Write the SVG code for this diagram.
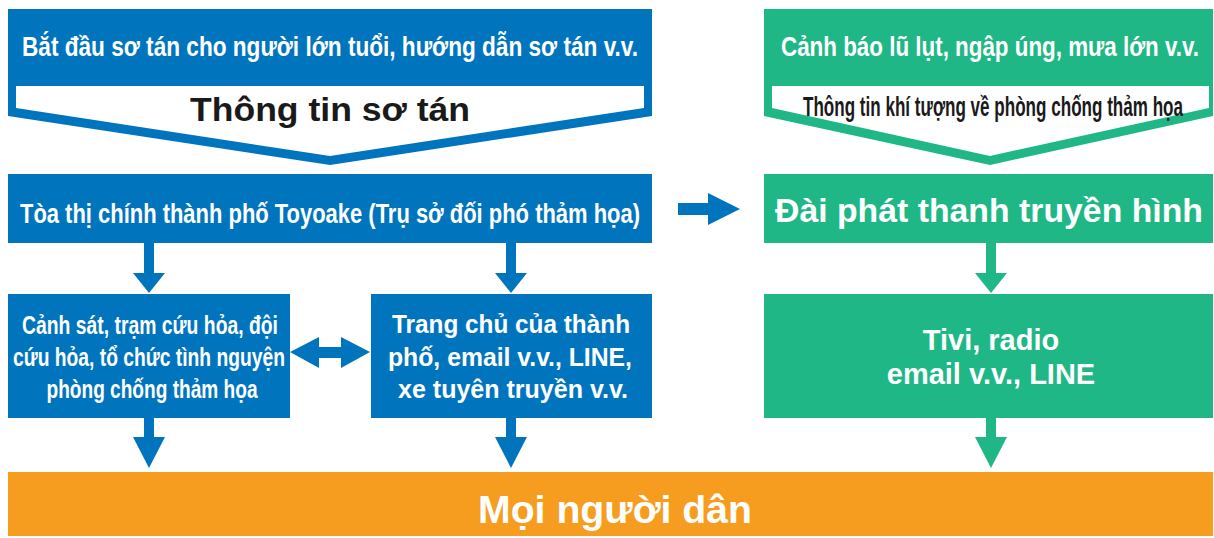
<svg xmlns="http://www.w3.org/2000/svg" width="1214" height="538" viewBox="0 0 1214 538">
<style>
.blue{fill:#0075BE}
.green{fill:#20B786}
.orange{fill:#F69C1E}
.white{fill:#FFFFFF}
.t{font-family:"Liberation Sans Narrow","Liberation Sans",Arial,sans-serif;font-weight:bold;text-anchor:middle}
.w{fill:#FFFFFF}
.k{fill:#1A1A1A}
.b{font-family:"Liberation Sans",Arial,sans-serif;font-weight:bold;text-anchor:middle}
</style>
<rect width="1214" height="538" fill="#FFFFFF"/>
<g id="evac-info">
<polygon class="blue" points="8,9 652,9 652,116 330,165 8,116"/>
<polygon class="white" points="16,86 644,86 644,108 330,156 16,108"/>
<text class="t w" x="330" y="56" font-size="28" textLength="616" lengthAdjust="spacingAndGlyphs">Bắt đầu sơ tán cho người lớn tuổi, hướng dẫn sơ tán v.v.</text>
<text class="b k" x="330" y="121" font-size="34" textLength="280" lengthAdjust="spacingAndGlyphs">Thông tin sơ tán</text>
</g>
<g id="weather-info">
<polygon class="green" points="764,9 1213,9 1213,116 990,165 764,116"/>
<polygon class="white" points="772,86 1209,86 1209,108 990,156 772,108"/>
<text class="t w" x="990" y="56" font-size="28" textLength="418" lengthAdjust="spacingAndGlyphs">Cảnh báo lũ lụt, ngập úng, mưa lớn v.v.</text>
<text class="t k" x="993" y="116" font-size="27" textLength="380" lengthAdjust="spacingAndGlyphs">Thông tin khí tượng về phòng chống thảm họa</text>
</g>
<g id="city-hall">
<rect class="blue" x="8" y="174" width="644" height="69"/>
<text class="t w" x="330" y="223" font-size="28" textLength="620" lengthAdjust="spacingAndGlyphs">Tòa thị chính thành phố Toyoake (Trụ sở đối phó thảm họa)</text>
</g>
<g id="broadcaster">
<rect class="green" x="764" y="174" width="449" height="69"/>
<text class="b w" x="989" y="222" font-size="33" textLength="428" lengthAdjust="spacingAndGlyphs">Đài phát thanh truyền hình</text>
</g>
<g id="police">
<rect class="blue" x="8" y="294" width="282" height="124"/>
<text class="t w" x="150" y="334" font-size="26" textLength="256" lengthAdjust="spacingAndGlyphs">Cảnh sát, trạm cứu hỏa, đội</text>
<text class="t w" x="149" y="366" font-size="26" textLength="272" lengthAdjust="spacingAndGlyphs">cứu hỏa, tổ chức tình nguyện</text>
<text class="t w" x="152" y="398" font-size="26" textLength="211" lengthAdjust="spacingAndGlyphs">phòng chống thảm họa</text>
</g>
<g id="homepage">
<rect class="blue" x="371" y="294" width="281" height="124"/>
<text class="b w" x="511" y="333" font-size="26" textLength="238" lengthAdjust="spacingAndGlyphs">Trang chủ của thành</text>
<text class="b w" x="510" y="366" font-size="26" textLength="244" lengthAdjust="spacingAndGlyphs">phố, email v.v., LINE,</text>
<text class="b w" x="513" y="398" font-size="26" textLength="230" lengthAdjust="spacingAndGlyphs">xe tuyên truyền v.v.</text>
</g>
<g id="tv-radio">
<rect class="green" x="764" y="294" width="449" height="124"/>
<text class="b w" x="991" y="350" font-size="29">Tivi, radio</text>
<text class="b w" x="991" y="384" font-size="29">email v.v., LINE</text>
</g>
<g id="residents">
<rect class="orange" x="8" y="472" width="1205" height="64"/>
<text class="b w" x="615" y="523" font-size="38" textLength="274" lengthAdjust="spacingAndGlyphs">Mọi người dân</text>
</g>
<g id="connectors">
<polygon class="blue" points="144,243 154,243 154,273 165,273 149,293 133,273 144,273"/>
<polygon class="blue" points="506,243 516,243 516,273 527,273 511,293 495,273 506,273"/>
<polygon class="blue" points="144,418 154,418 154,437 165,437 149,468 133,437 144,437"/>
<polygon class="blue" points="506,418 516,418 516,437 527,437 511,468 495,437 506,437"/>
<polygon class="green" points="986,243 996,243 996,273 1007,273 991,293 975,273 986,273"/>
<polygon class="green" points="986,418 996,418 996,437 1007,437 991,468 975,437 986,437"/>
<polygon class="blue" points="678,203 708,203 708,193 740,209 708,225 708,215 678,215"/>
<polygon class="blue" points="290,352 319,337 319,347 341,347 341,337 370,352 341,368 341,358 319,358 319,368"/>
</g>
</svg>
